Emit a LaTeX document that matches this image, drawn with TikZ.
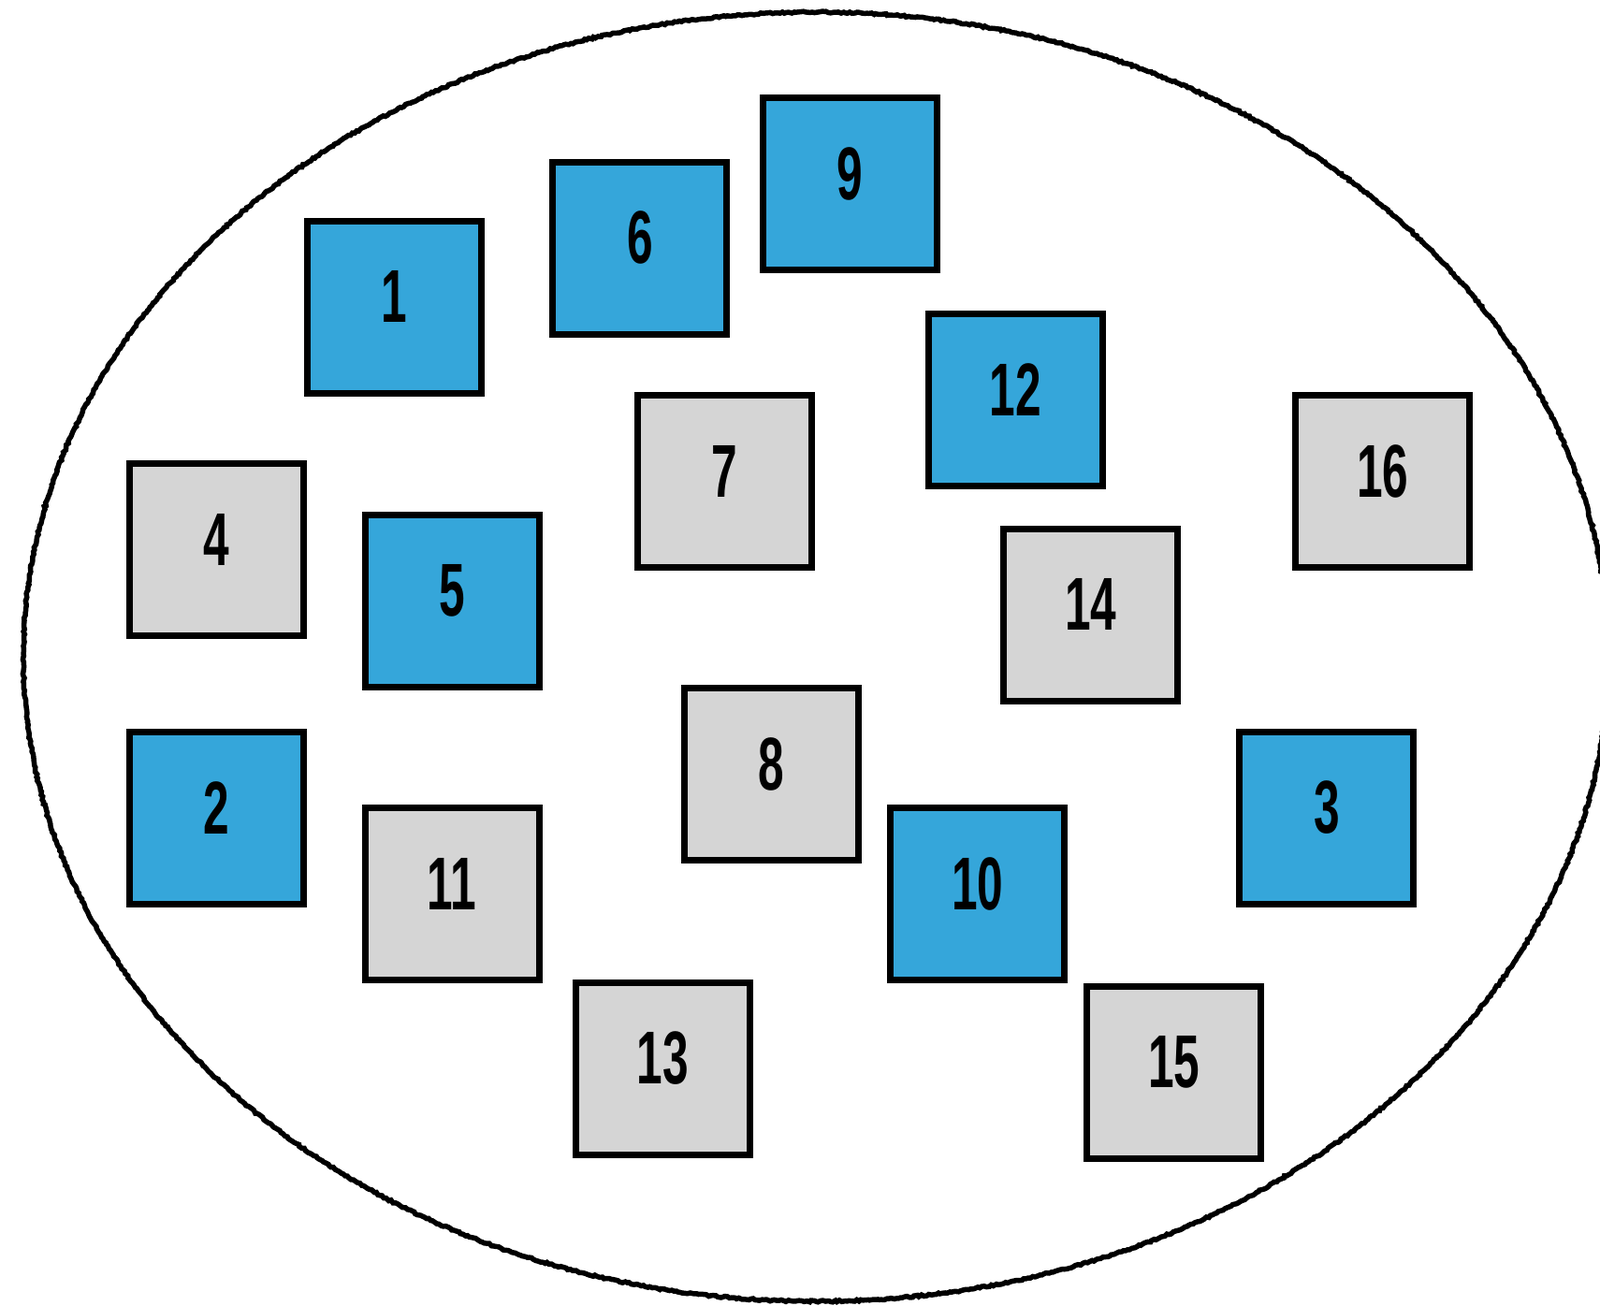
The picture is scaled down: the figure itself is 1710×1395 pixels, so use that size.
\documentclass[tikz,border=0pt]{standalone}
\usepackage{fontspec}
\setmainfont{Liberation Sans}
\usetikzlibrary{shapes.misc,decorations.pathmorphing}
\definecolor{bluebox}{RGB}{53,166,218}
\definecolor{graybox}{RGB}{213,213,213}
\tikzset{
  sq/.style={chamfered rectangle, chamfered rectangle corners={north west,south east},
    chamfered rectangle xsep=3pt, chamfered rectangle ysep=3pt,
    draw=black, line width=7pt, minimum width=186pt, minimum height=184pt,
    inner sep=0pt, text depth=0pt},
  bl/.style={sq, fill=bluebox},
  gr/.style={sq, fill=graybox},
  lbl/.style={font=\fontsize{80}{80}\selectfont\bfseries, yshift=11pt}
}
\newcommand{\num}[1]{\scalebox{0.62}[1]{#1}}
\begin{document}
\begin{tikzpicture}[x=1pt,y=-1pt]
\useasboundingbox (0,0) rectangle (1710,1395);
\draw[line width=5.5pt, decorate, decoration={random steps, segment length=2.5pt, amplitude=0.9pt}]
  (872,702) ellipse [x radius=847, y radius=689];
\foreach \n/\x/\y/\s in {1/421.5/328.3/bl, 6/683.8/265/bl, 9/908.5/196.9/bl, 12/1085.1/427.5/bl,
  7/774.3/514.8/gr, 16/1477.8/514.8/gr, 4/231.2/587.8/gr, 5/483.1/642.4/bl,
  14/1165.8/657.1/gr, 8/824.5/827.8/gr, 2/231.2/874.1/bl, 3/1417.8/874.1/bl,
  11/483.1/955.9/gr, 10/1044.8/955.9/bl, 13/708.3/1142.4/gr, 15/1254.7/1146.8/gr}{
  \node[\s] (b\n) at (\x,\y) {};
  \node[lbl] (t\n) at (b\n.center) {\num{\n}};
}
\end{tikzpicture}
\end{document}
